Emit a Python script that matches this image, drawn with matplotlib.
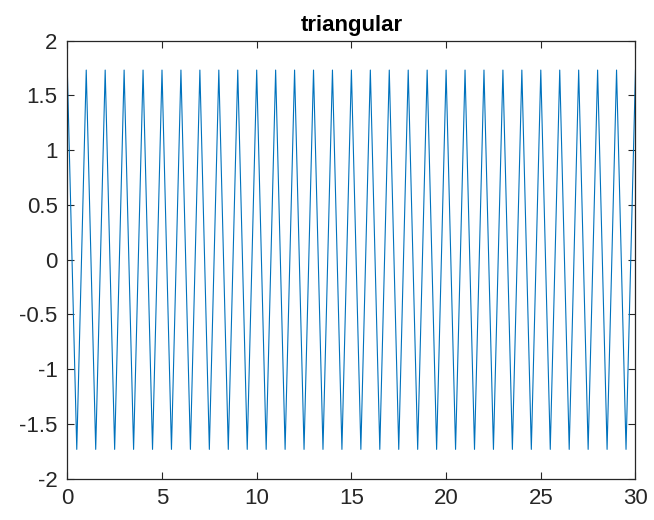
import matplotlib
matplotlib.use("Agg")
import matplotlib.pyplot as plt

# vertices of the triangular wave: peaks on whole numbers, troughs halfway between
wave_t = [0, 0.5, 1, 1.5, 2, 2.5, 3, 3.5, 4, 4.5, 5, 5.5, 6, 6.5, 7, 7.5,
          8, 8.5, 9, 9.5, 10, 10.5, 11, 11.5, 12, 12.5, 13, 13.5, 14, 14.5,
          15, 15.5, 16, 16.5, 17, 17.5, 18, 18.5, 19, 19.5, 20, 20.5, 21, 21.5,
          22, 22.5, 23, 23.5, 24, 24.5, 25, 25.5, 26, 26.5, 27, 27.5, 28, 28.5,
          29, 29.5, 30]
wave_y = [1.732, -1.732] * 30 + [1.732]

x_ticks = [0, 5, 10, 15, 20, 25, 30]
y_ticks = [-2, -1.5, -1, -0.5, 0, 0.5, 1, 1.5, 2]
y_labels = ["-2", "-1.5", "-1", "-0.5", "0", "0.5", "1", "1.5", "2"]

plt.rcParams['font.family'] = ['Liberation Sans', 'DejaVu Sans']
axis_color = '#262626'

fig = plt.figure(figsize=(6.54, 5.2), dpi=100)
ax = fig.add_axes([0.1029, 0.0794, 0.8688, 0.8423])

ax.plot(wave_t, wave_y, color='#0072BD', lw=0.8)

ax.set_xlim(0, 30)
ax.set_ylim(-2, 2)
ax.set_xticks(x_ticks)
ax.set_xticklabels([str(v) for v in x_ticks])
ax.set_yticks(y_ticks)
ax.set_yticklabels(y_labels)
ax.tick_params(direction='in', length=5, width=0.8, colors=axis_color,
               labelsize=16, top=True, right=True, pad=7)
for side in ax.spines.values():
    side.set_color(axis_color)
    side.set_linewidth(0.9)

ax.set_title('triangular', fontsize=16, fontweight='bold', color='black', pad=7)

fig.savefig('out.png', dpi=100)
